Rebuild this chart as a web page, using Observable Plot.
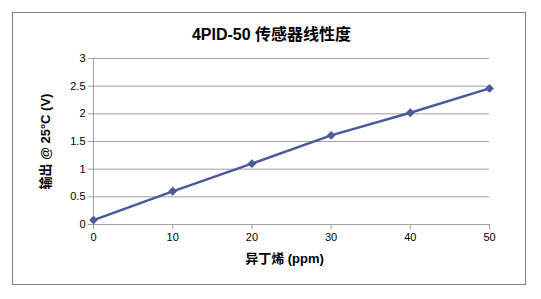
<!DOCTYPE html>
<html><head><meta charset="utf-8">
<script src="https://cdn.jsdelivr.net/npm/d3@7"></script>
<script src="https://cdn.jsdelivr.net/npm/@observablehq/plot@0.6"></script>
<style>
body{margin:0;background:#fff;font-family:"Liberation Sans",Arial,sans-serif;}
#wrap{position:relative;width:541px;height:299px;}
#frame{position:absolute;left:12px;top:12px;width:514px;height:273px;border:1px solid #808080;box-sizing:border-box;pointer-events:none;}
#title{position:absolute;left:0;width:541px;top:21px;text-align:center;font-weight:bold;font-size:16px;font-family:"Liberation Sans","Noto Sans CJK SC",sans-serif;color:#000;padding-left:2px;box-sizing:border-box;}
</style></head>
<body><div id="wrap"><div id="frame"></div><div id="title">4PID-50 传感器线性度</div></div>
<script>
const concentration = [0, 10, 20, 30, 40, 50];
const output = [0.08, 0.6, 1.1, 1.61, 2.02, 2.46];
const yTicks = [0, 0.5, 1, 1.5, 2, 2.5, 3];
const xTicks = [0, 10, 20, 30, 40, 50];
const titleText = "4PID-50 传感器线性度";
const xLabel = "异丁烯 (ppm)";
const yLabel = "输出 @ 25°C (V)";

const data = concentration.map((c, i) => ({x: c, y: output[i]}));
const font = "'Liberation Sans','Noto Sans CJK SC',sans-serif";
const chart = Plot.plot({
  width: 541, height: 299,
  marginLeft: 93, marginRight: 52, marginTop: 58, marginBottom: 75,
  style: {fontFamily: font, fontSize: "11px", background: "transparent", overflow: "visible"},
  x: {domain: [0, 50], ticks: xTicks, label: null},
  y: {domain: [0, 3], ticks: yTicks, label: null},
  marks: [
    Plot.gridY(yTicks.filter(d => d > 0), {stroke: "#a0a0a0", strokeOpacity: 1, strokeWidth: 1}),
    Plot.ruleX([0], {stroke: "#a0a0a0"}),
    Plot.ruleY([0], {stroke: "#a0a0a0"}),
    Plot.axisX({ticks: xTicks, tickSize: 5, tickPadding: 4, stroke: "#a0a0a0", fill: "#000", tickFormat: d => String(d), label: null}),
    Plot.axisY({ticks: yTicks, tickSize: 5, tickPadding: 3, stroke: "#a0a0a0", fill: "#000", tickFormat: d => String(d), label: null}),
    Plot.line(data, {x: "x", y: "y", stroke: "#4a5a9a", strokeWidth: 2.5}),
    Plot.dot(data, {x: "x", y: "y", symbol: "diamond2", r: 4, fill: "#4a5a9a", stroke: "none"}),
    Plot.text([xLabel], {frameAnchor: "bottom", dx: -7, dy: 38, fontWeight: "bold", fontSize: 13, fill: "#000"}),
    Plot.text([yLabel], {frameAnchor: "left", dx: -48, rotate: -90, textAnchor: "middle", fontWeight: "bold", fontSize: 13, fill: "#000"})
  ]
});
document.getElementById("wrap").prepend(chart);
chart.style.position = "absolute"; chart.style.left = "0"; chart.style.top = "0";
</script></body></html>
